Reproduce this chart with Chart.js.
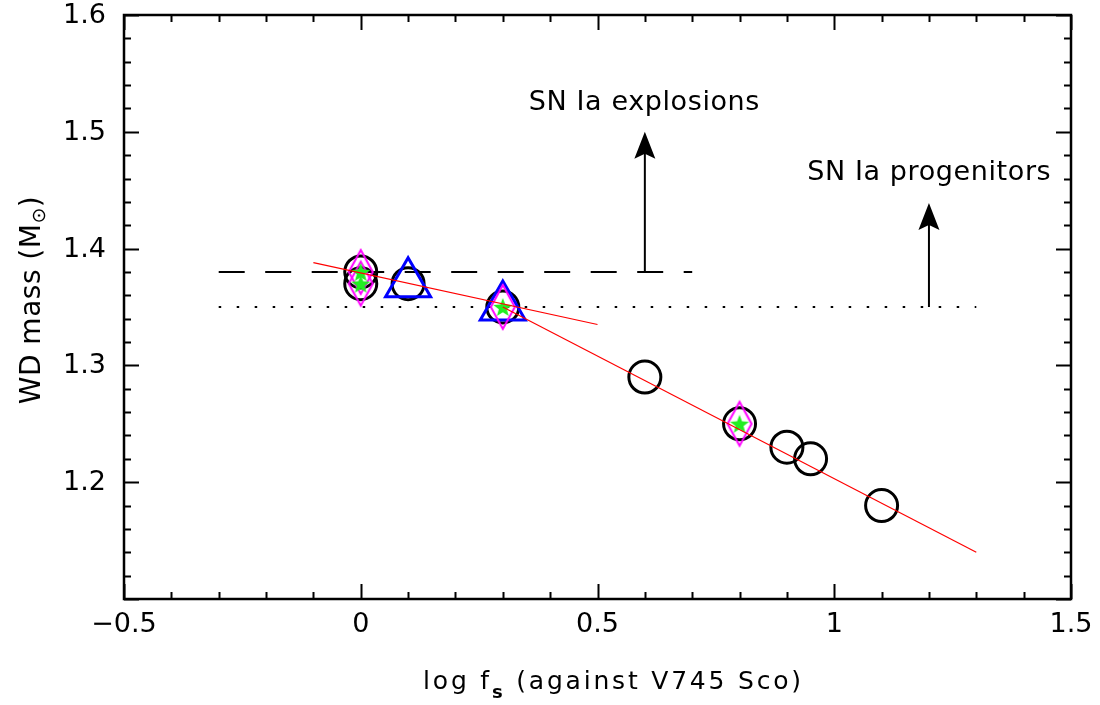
<!DOCTYPE html>
<html>
<head>
<meta charset="utf-8">
<script src="https://cdn.jsdelivr.net/npm/chart.js@4.4.1/dist/chart.umd.min.js"></script>
<style>
  html, body { margin: 0; padding: 0; background: #fff; }
  #wrap { width: 1100px; height: 705px; }
</style>
</head>
<body>
<div id="wrap"><canvas id="wdChart" width="1100" height="705"></canvas></div>
<script>
// --- data (log f_s vs WD mass) ---
const circleX = [0, 0, 0.1, 0.3, 0.6, 0.8, 0.9, 0.95, 1.1];
const circleY = [1.38, 1.37, 1.37, 1.35, 1.29, 1.25, 1.23, 1.22, 1.18];
const triangleX = [0.1, 0.3];
const triangleY = [1.37, 1.35];
const diamondX = [0, 0, 0.3, 0.8];
const diamondY = [1.38, 1.37, 1.35, 1.25];
const starX = [0, 0, 0.3, 0.8];
const starY = [1.38, 1.37, 1.35, 1.25];

// red fits
const fit1X = [-0.1, 0.5];
const fit1Y = [1.388, 1.335];
const fit2X = [0.3, 1.3];
const fit2Y = [1.35, 1.14];

// limit lines
const explosionX = [-0.3, 0.7];
const explosionY = [1.38, 1.38];
const progenitorX = [-0.3, 1.3];
const progenitorY = [1.35, 1.35];

// arrows: x, from, to
const arrowX = [0.6, 1.2];
const arrowFrom = [1.38, 1.35];
const arrowTo = [1.5, 1.439];

// annotation labels (x = left edge, y = baseline)
const noteText = ['SN Ia explosions', 'SN Ia progenitors'];
const noteX = [0.355, 0.943];
const noteY = [1.5187, 1.4587];

const xTicks = [-0.5, 0, 0.5, 1, 1.5];
const yTicks = [1.2, 1.3, 1.4, 1.5, 1.6];

const FONT = '"DejaVu Sans", sans-serif';

function pts(xs, ys) {
  return xs.map((x, i) => ({ x: x, y: ys[i] }));
}

// narrow magenta diamond
function makeDiamond() {
  const c = document.createElement('canvas');
  c.width = 30; c.height = 50;
  const g = c.getContext('2d');
  g.strokeStyle = '#ff00ff';
  g.lineWidth = 2;
  g.beginPath();
  g.moveTo(15, 3);
  g.lineTo(27, 25);
  g.lineTo(15, 47);
  g.lineTo(3, 25);
  g.closePath();
  g.stroke();
  return c;
}

// filled green star
function makeStar() {
  const c = document.createElement('canvas');
  c.width = 22; c.height = 22;
  const g = c.getContext('2d');
  g.fillStyle = '#22ee22';
  g.beginPath();
  for (let i = 0; i < 10; i++) {
    const r = i % 2 === 0 ? 10 : 4.2;
    const a = -Math.PI / 2 + i * Math.PI / 5;
    const px = 11 + r * Math.cos(a), py = 12 + r * Math.sin(a);
    if (i === 0) g.moveTo(px, py); else g.lineTo(px, py);
  }
  g.closePath();
  g.fill();
  return c;
}

const lineDs = (data, color, width, dash) => ({
  data: data,
  showLine: true,
  borderColor: color,
  borderWidth: width,
  borderDash: dash || [],
  pointRadius: 0,
  fill: false
});

// ticks, frame, arrows, labels, axis titles
const decorPlugin = {
  id: 'decor',
  afterDatasetsDraw(chart) {
    const ctx = chart.ctx;
    const xs = chart.scales.x, ys = chart.scales.y;
    const a = chart.chartArea;
    ctx.save();
    ctx.strokeStyle = '#000';
    ctx.lineWidth = 2;
    // minor + major ticks on x
    for (let k = -5; k <= 15; k++) {
      const v = k / 10;
      const px = Math.round(xs.getPixelForValue(v)) + 0.5;
      const len = k % 5 === 0 ? 15 : 7;
      ctx.beginPath();
      ctx.moveTo(px, a.bottom); ctx.lineTo(px, a.bottom - len);
      ctx.moveTo(px, a.top); ctx.lineTo(px, a.top + len);
      ctx.stroke();
    }
    for (let k = 55; k <= 80; k++) {
      const v = k / 50;
      const py = Math.round(ys.getPixelForValue(v)) + 0.5;
      const len = k % 5 === 0 ? 15 : 7;
      ctx.beginPath();
      ctx.moveTo(a.left, py); ctx.lineTo(a.left + len, py);
      ctx.moveTo(a.right, py); ctx.lineTo(a.right - len, py);
      ctx.stroke();
    }
    // frame
    ctx.lineWidth = 2.5;
    ctx.strokeRect(a.left, a.top, a.right - a.left, a.bottom - a.top);

    // y tick labels
    ctx.fillStyle = '#000';
    ctx.font = '27px ' + FONT;
    ctx.textAlign = 'right';
    ctx.textBaseline = 'middle';
    yTicks.forEach(v => {
      ctx.fillText(v.toFixed(1), a.left - 18, ys.getPixelForValue(v) + 1);
    });

    // arrows
    ctx.lineWidth = 2;
    arrowX.forEach((x, i) => {
      const px = xs.getPixelForValue(x);
      const p0 = ys.getPixelForValue(arrowFrom[i]);
      const p1 = ys.getPixelForValue(arrowTo[i]);
      ctx.beginPath();
      ctx.moveTo(px, p0); ctx.lineTo(px, p1 + 20);
      ctx.stroke();
      ctx.beginPath();
      ctx.moveTo(px, p1);
      ctx.lineTo(px + 10.5, p1 + 27);
      ctx.lineTo(px, p1 + 22);
      ctx.lineTo(px - 10.5, p1 + 27);
      ctx.closePath();
      ctx.fill();
    });

    // annotation labels
    ctx.font = '27px ' + FONT;
    ctx.letterSpacing = '0.6px';
    ctx.textBaseline = 'alphabetic';
    ctx.textAlign = 'left';
    noteText.forEach((t, i) => {
      ctx.fillText(t, xs.getPixelForValue(noteX[i]), ys.getPixelForValue(noteY[i]));
    });

    // x title: log f_s (against V745 Sco)
    const big = '25px ' + FONT, small = 'bold 18px ' + FONT;
    ctx.letterSpacing = '2.8px';
    ctx.font = big;
    const t1 = 'log f', t3 = ' (against V745 Sco)';
    const w1 = ctx.measureText(t1).width, w3 = ctx.measureText(t3).width;
    ctx.font = small;
    const w2 = ctx.measureText('s').width;
    let cx = (a.left + a.right) / 2 + 16 - (w1 + w2 + w3) / 2;
    const base = 689;
    ctx.font = big; ctx.fillText(t1, cx, base); cx += w1;
    ctx.font = small; ctx.fillText('s', cx, base + 9); cx += w2;
    ctx.font = big; ctx.fillText(t3, cx, base);

    // y title: WD mass (M⊙)
    ctx.letterSpacing = '0.5px';
    ctx.translate(40, 300);
    ctx.rotate(-Math.PI / 2);
    const yb = '28px ' + FONT, ys2 = '19px ' + FONT;
    ctx.font = yb;
    const y1 = 'WD mass (M', y3 = ')';
    const v1 = ctx.measureText(y1).width, v3 = ctx.measureText(y3).width;
    ctx.font = ys2;
    const v2 = ctx.measureText('⊙').width;
    let cy = -(v1 + v2 + v3) / 2;
    ctx.font = yb; ctx.fillText(y1, cy, 0); cy += v1;
    ctx.font = ys2; ctx.fillText('⊙', cy, 5); cy += v2;
    ctx.font = yb; ctx.fillText(y3, cy, 0);
    ctx.restore();
  }
};

const chart = new Chart(document.getElementById('wdChart'), {
  type: 'scatter',
  data: {
    datasets: [
      lineDs(pts(fit1X, fit1Y), '#ff0000', 1.2),
      lineDs(pts(fit2X, fit2Y), '#ff0000', 1.2),
      { data: pts(starX, starY), pointStyle: makeStar(), pointRadius: 10 },
      { data: pts(diamondX, diamondY), pointStyle: makeDiamond(), pointRadius: 10 },
      {
        data: pts(triangleX, triangleY), pointStyle: 'triangle', pointRadius: 26,
        borderColor: '#0000ff', borderWidth: 3, backgroundColor: 'rgba(0,0,0,0)'
      },
      {
        data: pts(circleX, circleY), pointStyle: 'circle', pointRadius: 16,
        borderColor: '#000', borderWidth: 3, backgroundColor: 'rgba(0,0,0,0)'
      },
      lineDs(pts(explosionX, explosionY), '#000', 2, [26, 20.5]),
      lineDs(pts(progenitorX, progenitorY), '#000', 2, [2.5, 15.5])
    ]
  },
  options: {
    responsive: false,
    animation: false,
    events: [],
    layout: { autoPadding: false, padding: { top: 15, right: 29, left: 0, bottom: 0 } },
    plugins: { legend: { display: false }, tooltip: { enabled: false } },
    scales: {
      x: {
        type: 'linear', min: -0.5, max: 1.5,
        afterBuildTicks: s => { s.ticks = xTicks.map(v => ({ value: v })); },
        afterFit: s => { s.height = 106; s.paddingLeft = 0; s.paddingRight = 0; },
        grid: { display: false },
        border: { display: false },
        ticks: {
          color: '#000', padding: 2,
          font: { family: FONT, size: 27 },
          maxRotation: 0,
          callback: v => v < 0 ? '\u2212' + Math.abs(v) : String(v)
        }
      },
      y: {
        type: 'linear', min: 1.1, max: 1.6,
        afterFit: s => { s.width = 124; },
        grid: { display: false },
        border: { display: false },
        ticks: { display: false }
      }
    }
  },
  plugins: [decorPlugin]
});
</script>
</body>
</html>
